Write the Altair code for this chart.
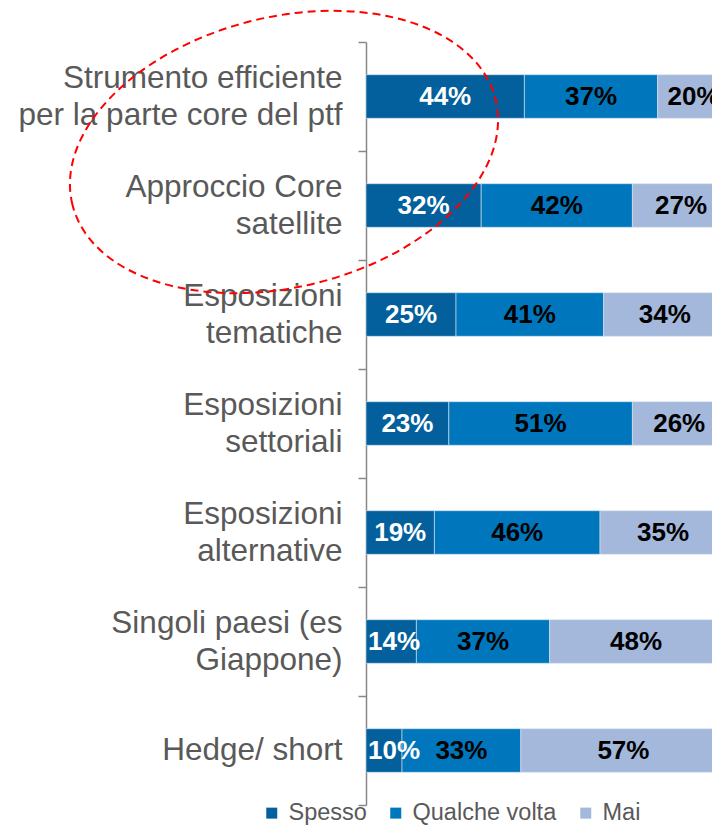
import altair as alt
import pandas as pd

categories = [
    "Strumento efficiente|per la parte core del ptf",
    "Approccio Core|satellite",
    "Esposizioni|tematiche",
    "Esposizioni|settoriali",
    "Esposizioni|alternative",
    "Singoli paesi (es|Giappone)",
    "Hedge/ short",
]
series = ["Spesso", "Qualche volta", "Mai"]
spesso = [44, 32, 25, 23, 19, 14, 10]
qualche = [37, 42, 41, 51, 46, 37, 33]
mai = [20, 27, 34, 26, 35, 48, 57]
colors = ["#03609c", "#0077bd", "#a3b8da"]
label_colors = ["white", "black", "black"]

rows = []
for i, c in enumerate(categories):
    for j, (s, vals) in enumerate(zip(series, [spesso, qualche, mai])):
        rows.append({"cat": c, "serie": s, "idx": j, "value": vals[i], "tcol": label_colors[j]})
df = pd.DataFrame(rows)

FONT = "Liberation Sans"

base = alt.Chart(df).transform_stack(
    stack="value", groupby=["cat"], as_=["x0", "x1"],
    sort=[alt.SortField("idx", order="ascending")]
).transform_calculate(
    mid="max((datum.x0 + datum.x1) / 2, 7.8)",
    lab="datum.value + '%'"
)

ZW = "\u200b"
label_expr = (
    "indexof(datum.label, '|') >= 0 ? "
    "[split(datum.label, '|')[0], '" + ZW + "', split(datum.label, '|')[1]] : "
    "['" + ZW + "', datum.label]"
)

xscale = alt.Scale(domain=[0, 96.11], nice=False, zero=True)
yenc = alt.Y(
    "cat:N", sort=categories,
    scale=alt.Scale(paddingInner=0, paddingOuter=0),
    axis=alt.Axis(
        title=None, labelExpr=label_expr,
        labelFont=FONT, labelFontSize=31.5, labelLineHeight=18.5,
        labelOffset=-18.5,
        labelColor="#595959", labelPadding=16, labelLimit=500,
        tickBand="extent", tickSize=8, tickWidth=1.5, tickColor="#888888",
        domainColor="#888888", domainWidth=1.5, grid=False,
    ),
)

bars = base.mark_bar(
    height=alt.RelativeBandSize(0.4), clip=True,
    stroke="#d8e4f2", strokeWidth=0.6,
).encode(
    x=alt.X("x0:Q", scale=xscale, axis=None),
    x2="x1:Q",
    y=yenc,
    color=alt.Color(
        "serie:N", scale=alt.Scale(domain=series, range=colors),
        legend=alt.Legend(
            title=None, orient="none", legendX=-106, legendY=759,
            direction="horizontal", symbolType="square", symbolSize=121,
            symbolStrokeWidth=0, labelFont=FONT, labelFontSize=23.5,
            labelColor="#595959", columnPadding=17, labelOffset=5,
        ),
    ),
    order=alt.Order("idx:Q"),
)

texts = base.mark_text(
    font=FONT, fontSize=26, fontWeight="bold", baseline="middle", align="center",
).encode(
    x=alt.X("mid:Q", scale=xscale, axis=None),
    y=yenc,
    text="lab:N",
    color=alt.Color("tcol:N", scale=None, legend=None),
)

ellipse_path = ("M -1 0 C -1 -0.342 -0.552 -0.619 0 -0.619 "
                "C 0.552 -0.619 1 -0.342 1 0 "
                "C 1 0.342 0.552 0.619 0 0.619 "
                "C -0.552 0.619 -1 0.342 -1 0 Z")
ellipse = alt.Chart(pd.DataFrame({"k": [0]})).mark_point(
    shape=ellipse_path, size=190096, filled=False, stroke="#ff0000",
    strokeWidth=2, strokeDash=[8, 5], angle=346, opacity=1,
).encode(x=alt.value(-82), y=alt.value(110))

chart = alt.layer(bars, texts, ellipse).properties(
    width=346, height=763,
    padding={"left": 358, "top": 34, "right": 0, "bottom": 20},
    autosize=alt.AutoSizeParams(type="none"),
).configure_view(stroke=None)

chart.save("out.html", embed_options={"renderer": "svg", "actions": False})
